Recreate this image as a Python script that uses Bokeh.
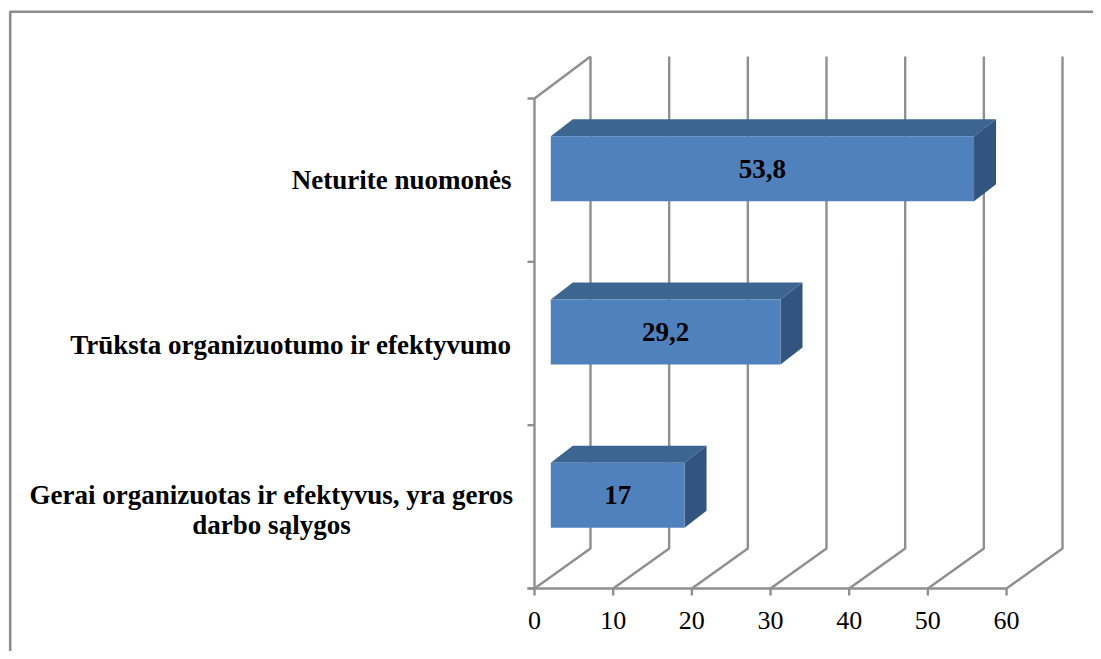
from bokeh.plotting import figure
from bokeh.models import Range1d, ColumnDataSource
from bokeh.core.properties import value
from bokeh.embed import file_html
from bokeh.resources import INLINE

# data
categories = ["Gerai organizuotas ir efektyvus, yra geros\ndarbo sąlygos",
              "Trūksta organizuotumo ir efektyvumo",
              "Neturite nuomonės"]
values = [17, 29.2, 53.8]
value_labels = ["17", "29,2", "53,8"]
x_ticks = [0, 10, 20, 30, 40, 50, 60]
x_tick_labels = ["0", "10", "20", "30", "40", "50", "60"]
y_ticks = [0, 1, 2, 3]

# layout: picture pixel -> data mapping
W, H = 1093, 651
PX_X = 7.867      # px per value unit
PX_Y = 163.33     # px per category unit
X0_PIC, Y0_PIC = 534.0, 588.0
x_start = -X0_PIC / PX_X
y_end = Y0_PIC / PX_Y
x_end = x_start + W / PX_X
y_start = y_end - H / PX_Y

def xp(px):  # horizontal pixel distance -> value units
    return px / PX_X
def yp(px):  # vertical pixel distance -> category units
    return px / PX_Y

WALL_DX, WALL_DY = xp(56), yp(40)
BAR_OFF_X, BAR_OFF_Y = xp(16.3), yp(11.5)
BAR_DX, BAR_DY = xp(22), yp(17)
BAR_H = yp(65)
SERIF = value("Liberation Serif")
GRID = "#8f8f8f"
LW = 2.4
FS = "27px"
FS_TICK = "26px"

p = figure(width=W, height=H, x_range=Range1d(x_start, x_end), y_range=Range1d(y_start, y_end),
           toolbar_location=None, output_backend="svg", min_border=0,
           x_axis_type=None, y_axis_type=None, background_fill_color="white",
           border_fill_color="white", outline_line_color=None)
p.grid.visible = False

# outer frame of the picture
left_edge = x_start + xp(9.7)
top_edge = y_end - yp(11.3)
p.line([left_edge, left_edge, x_end], [y_start, top_edge, top_edge], line_color="#8c8c8c", line_width=2.6)

# walls: gridlines run from the front axis, back along the floor, then up the back wall
top_y = 3 + WALL_DY + yp(2)
for t in x_ticks:
    p.line([t, t + WALL_DX, t + WALL_DX], [0, WALL_DY, top_y], line_color=GRID, line_width=LW)
# side wall top edge and front vertical axis
p.line([0, WALL_DX], [3, top_y], line_color=GRID, line_width=LW)
p.line([0, 0], [0, 3], line_color=GRID, line_width=LW)
p.line([-xp(7), 60], [0, 0], line_color=GRID, line_width=LW)
# tick marks
p.segment(x0=[-xp(7)] * len(y_ticks), y0=y_ticks, x1=[0] * len(y_ticks), y1=y_ticks, line_color=GRID, line_width=LW)
p.segment(x0=x_ticks, y0=[0] * len(x_ticks), x1=x_ticks, y1=[-yp(7)] * len(x_ticks), line_color=GRID, line_width=LW)

# 3-D bars
for i, v in enumerate(values):
    cy = i + 0.5 + BAR_OFF_Y
    b, t = cy - BAR_H / 2, cy + BAR_H / 2
    l, r = BAR_OFF_X, v + BAR_OFF_X
    p.patch([l, l + BAR_DX, r + BAR_DX, r], [t, t + BAR_DY, t + BAR_DY, t], fill_color="#3d6592", line_color=None)
    p.patch([r, r + BAR_DX, r + BAR_DX, r], [b, b + BAR_DY, t + BAR_DY, t], fill_color="#32557f", line_color=None)
    p.quad(left=l, right=r, bottom=b, top=t, fill_color="#4f81bd", line_color=None)

# value labels
src = ColumnDataSource(dict(
    x=[v / 2 + BAR_OFF_X for v in values],
    y=[i + 0.5 + BAR_OFF_Y for i in range(len(values))],
    t=value_labels))
p.text("x", "y", text="t", source=src, text_font=SERIF, text_font_style="bold", text_font_size=FS,
       text_color="black", text_align="center", text_baseline="middle")

# x tick labels
p.text(x_ticks, [-yp(32)] * len(x_ticks), text=x_tick_labels, text_font=SERIF, text_font_size=FS_TICK,
       text_color="black", text_align="center", text_baseline="middle")

# category labels
RIGHT = -xp(23)
for i, dy in ((1, -1), (2, 0)):
    p.text([RIGHT], [i + 0.5 + yp(dy)], text=[categories[i]], text_font=SERIF, text_font_style="bold",
           text_font_size=FS, text_color="black", text_align="right", text_baseline="middle")
p.text([RIGHT - xp(240)], [0.5 - yp(3)], text=[categories[0]], text_font=SERIF, text_font_style="bold",
       text_font_size=FS, text_color="black", text_align="center", text_baseline="middle",
       text_line_height=1.0)

open("out.html", "w").write(file_html(p, INLINE))
